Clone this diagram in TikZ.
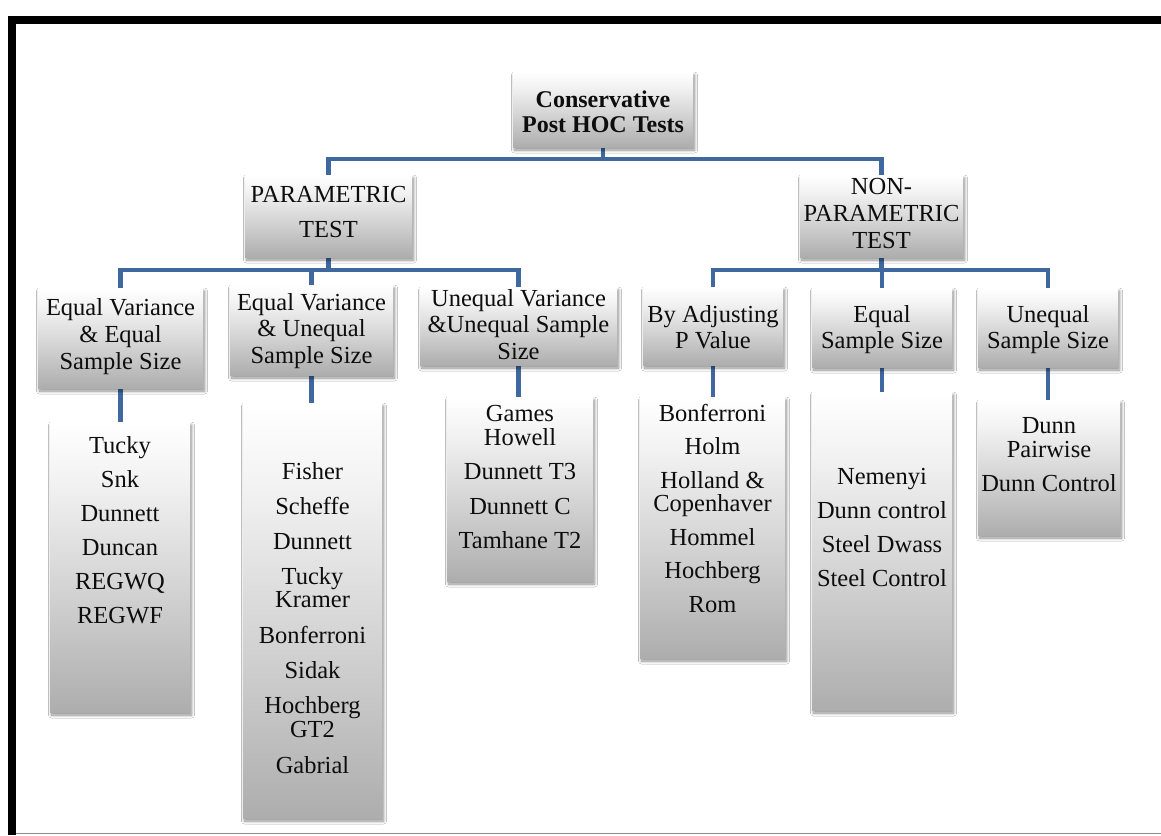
\documentclass[tikz,border=0pt]{standalone}
\usepackage{fontspec}
\setmainfont{Liberation Serif}
\usetikzlibrary{backgrounds,shadows.blur}
\definecolor{busblue}{RGB}{62,104,158}
% white at the top, darkening towards the bottom edge
\pgfdeclareverticalshading{bevelgray}{100bp}{%
  color(0bp)=(black!32); color(25bp)=(black!32); color(45bp)=(black!18);
  color(65bp)=(black!5); color(75bp)=(white); color(100bp)=(white)}
\begin{document}
\begin{tikzpicture}[x=1pt,y=-1pt,
  every node/.style={inner sep=0pt, outer sep=0pt},
  panel/.style={rectangle, draw=none, shading=bevelgray,
    blur shadow={shadow xshift=1.5pt, shadow yshift=-3pt,
      shadow opacity=45, shadow blur steps=8, shadow blur radius=3pt}},
  txt/.style={anchor=north, align=center, text=black!95,
    font=\fontsize{24.5}{26.5}\selectfont},
  conn/.style={draw=busblue, line width=4.5pt},
]
\useasboundingbox (0,0) rectangle (1161,835);

% frame
\draw[line width=8pt] (8,20) -- (1161,20);
\draw[line width=8pt] (11.7,16) -- (11.7,835);
\draw[line width=1.5pt, black!45] (16,833.5) -- (1161,833.5);

% top level
\node[panel, minimum width=180pt, minimum height=75pt] (root) at (603,109.5) {};
\node[txt, font=\bfseries\fontsize{24}{25}\selectfont] (rootT) at (603,91) {Conservative\\Post HOC Tests};

% second level
\node[panel, minimum width=167pt, minimum height=82pt] (param) at (328.5,216) {};
\node[txt] (paramT) at (328.5,186) {PARAMETRIC\\[9pt]TEST};
\node[panel, minimum width=163pt, minimum height=82pt] (nonparam) at (881.5,216) {};
\node[txt] (nonparamT) at (881.5,178) {NON-\\[0.5pt]PARAMETRIC\\[0.5pt]TEST};

% third level
\node[panel, minimum width=165pt, minimum height=100pt] (eqeq) at (120.5,338) {};
\node[txt] (eqeqT) at (120.5,298) {Equal Variance\\[0.5pt]\& Equal\\[0.5pt]Sample Size};
\node[panel, minimum width=163pt, minimum height=90pt] (equneq) at (311.5,330) {};
\node[txt] (equneqT) at (311.5,293) {Equal Variance\\[0pt]\& Unequal\\[0pt]Sample Size};
\node[panel, minimum width=197pt, minimum height=78pt] (uneq) at (518.5,326) {};
\node[txt] (uneqT) at (518.5,289) {Unequal Variance\\\&Unequal Sample\\Size};
\node[panel, minimum width=140pt, minimum height=78pt] (adjp) at (713,326) {};
\node[txt] (adjpT) at (713,305) {By Adjusting\\P Value};
\node[panel, minimum width=140pt, minimum height=79pt] (eqss) at (882,327.5) {};
\node[txt] (eqssT) at (882,305) {Equal\\Sample Size};
\node[panel, minimum width=140pt, minimum height=79pt] (uneqss) at (1048,327.5) {};
\node[txt] (uneqssT) at (1048,305) {Unequal\\Sample Size};

% lists of tests
\node[panel, minimum width=140pt, minimum height=290pt] (tucky) at (120,567) {};
\node[txt] (tuckyT) at (120,436) {Tucky\\[7.5pt]Snk\\[7.5pt]Dunnett\\[7.5pt]Duncan\\[7.5pt]REGWQ\\[7.5pt]REGWF};
\node[panel, minimum width=139pt, minimum height=415pt] (fisher) at (312.5,610.5) {};
\node[txt] (fisherT) at (312.5,462) {Fisher\\[8.5pt]Scheffe\\[9pt]Dunnett\\[8.5pt]Tucky\\[-3.5pt]Kramer\\[9pt]Bonferroni\\[8.5pt]Sidak\\[9pt]Hochberg\\[-2.5pt]GT2\\[9pt]Gabrial};
\node[panel, minimum width=146pt, minimum height=184pt] (games) at (520,489) {};
\node[txt] (gamesT) at (520,405) {Games\\[-2.5pt]Howell\\[8pt]Dunnett T3\\[8pt]Dunnett C\\[8pt]Tamhane T2};
\node[panel, minimum width=145pt, minimum height=261pt] (bonf) at (712.5,527.5) {};
\node[txt] (bonfT) at (712.5,404) {Bonferroni\\[7pt]Holm\\[7pt]Holland \&\\[-3pt]Copenhaver\\[7pt]Hommel\\[7pt]Hochberg\\[7pt]Rom};
\node[panel, minimum width=140pt, minimum height=318pt] (nem) at (882,551) {};
\node[txt] (nemT) at (882,468) {Nemenyi\\[7.5pt]Dunn control\\[7.5pt]Steel Dwass\\[7.5pt]Steel Control};
\node[panel, minimum width=142pt, minimum height=135pt] (dunn) at (1049,467.5) {};
\node[txt] (dunnT) at (1049,417) {Dunn\\[-2.5pt]Pairwise\\[8pt]Dunn Control};

% connectors
\begin{scope}[on background layer]
\fill[white] (0,0) rectangle (1161,835);
\draw[conn] (root.south) -- ++(0,12) -| (param.north);
\draw[conn] (root.south) -- ++(0,12) -| (nonparam.north);
\draw[conn] (param.south) -- ++(0,13) -| (eqeq.north);
\draw[conn] (param.south) -- ++(0,13) -| (equneq.north);
\draw[conn] (param.south) -- ++(0,13) -| (uneq.north);
\draw[conn] (nonparam.south) -- ++(0,13) -| (adjp.north);
\draw[conn] (nonparam.south) -- ++(0,13) -| (eqss.north);
\draw[conn] (nonparam.south) -- ++(0,13) -| (uneqss.north);
\draw[conn] (eqeq.south) -- (eqeq.south |- tucky.north);
\draw[conn] (equneq.south) -- (equneq.south |- fisher.north);
\draw[conn] (uneq.south) -- (uneq.south |- games.north);
\draw[conn] (adjp.south) -- (adjp.south |- bonf.north);
\draw[conn] (eqss.south) -- (eqss.south |- nem.north);
\draw[conn] (uneqss.south) -- (uneqss.south |- dunn.north);
\end{scope}
\end{tikzpicture}
\end{document}
